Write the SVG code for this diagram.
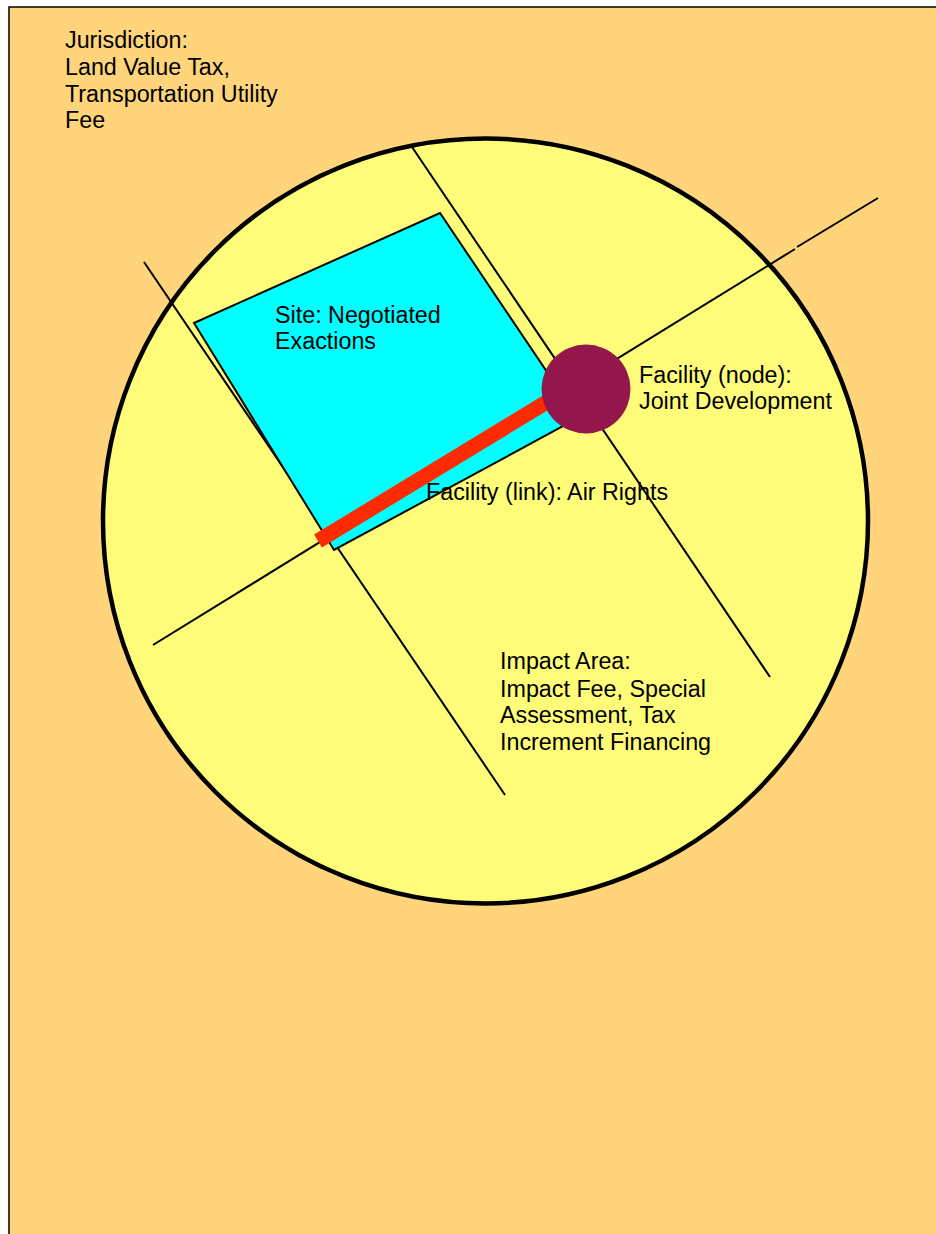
<svg xmlns="http://www.w3.org/2000/svg" width="936" height="1234" viewBox="0 0 936 1234">
<style>
text{font-family:"Liberation Sans",Arial,sans-serif;font-size:23.3px;fill:#000}
.ln{stroke:#000;stroke-width:2;fill:none}
</style>
<g id="jurisdiction">
<rect x="9" y="7" width="940" height="1240" fill="#FFD47A" stroke="#000" stroke-width="1.5"/>
<text x="65" y="48">Jurisdiction:</text>
<text x="65" y="75">Land Value Tax,</text>
<text x="65" y="102">Transportation Utility</text>
<text x="65" y="128">Fee</text>
</g>
<g id="impact-area">
<circle cx="485.5" cy="521" r="382.5" fill="#FFFC79" stroke="#000" stroke-width="4.5"/>
<text x="500" y="669">Impact Area:</text>
<text x="500" y="697">Impact Fee, Special</text>
<text x="500" y="723">Assessment, Tax</text>
<text x="500" y="750">Increment Financing</text>
</g>
<g id="connectors">
<line class="ln" x1="412" y1="147" x2="770" y2="677"/>
<line class="ln" x1="144" y1="262" x2="505" y2="795"/>
<line class="ln" x1="153" y1="645" x2="795" y2="249"/>
<line class="ln" x1="797" y1="247" x2="878" y2="198"/>
</g>
<g id="site">
<polygon points="194,323 440,213 578,418 334,550" fill="#00FFFF" stroke="#000" stroke-width="2" stroke-linejoin="miter"/>
<text x="275" y="323">Site: Negotiated</text>
<text x="275" y="349">Exactions</text>
</g>
<g id="facility-link">
<line x1="318" y1="541" x2="560" y2="394" stroke="#FF2A00" stroke-width="15"/>
<text x="426" y="500">Facility (link): Air Rights</text>
</g>
<g id="facility-node">
<circle cx="586" cy="389" r="44.5" fill="#94174C"/>
<text x="639" y="383">Facility (node):</text>
<text x="639" y="409">Joint Development</text>
</g>
</svg>
